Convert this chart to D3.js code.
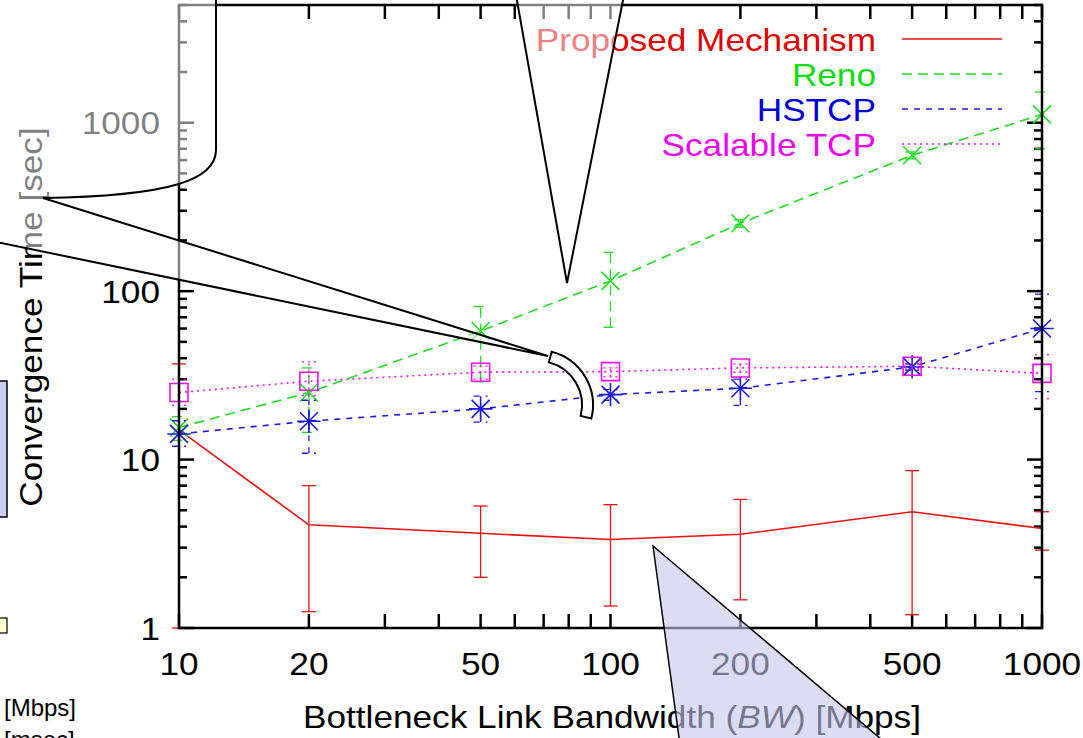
<!DOCTYPE html>
<html>
<head>
<meta charset="utf-8">
<script src="https://cdn.jsdelivr.net/npm/d3@7"></script>
<style>
  body { margin: 0; background: #fff; }
  svg { display: block; font-family: "Liberation Sans", Arial, sans-serif; }
</style>
</head>
<body>
<div id="chart"></div>
<script>
// values (sec), one array per series
var bandwidth = [10, 20, 50, 100, 200, 500, 1000];

var proposed     = [15,   4.1,  3.65, 3.35, 3.6,  4.9,  3.9];
var proposedLow  = [1,    1.25, 2.0,  1.35, 1.47, 1.2,  2.9];
var proposedHigh = [37,   7.0,  5.3,  5.4,  5.8,  8.6,  4.9];

var reno     = [15.5, 25,   58, 115, 253, 641, 1120];
var renoLow  = [13,   14.5, 29, 61,  240, 610, 700];
var renoHigh = [18,   35,   81, 170, 265, 670, 1520];

var hstcp     = [14.2, 16.9, 20,   24.3, 26.5, 35.5, 60];
var hstcpLow  = [12,   10.9, 16.7, 22.5, 21,   34,   25.3];
var hstcpHigh = [17,   22.5, 23.8, 26,   30,   37,   96];

var scalable     = [25, 29.2, 33, 33.3, 35, 35.8, 32.5];
var scalableLow  = [21, 24,   30, 31,   33, 34.5, 23];
var scalableHigh = [30, 38,   36, 35,   37, 37,   42];

var seriesNames = ["Proposed Mechanism", "Reno", "HSTCP", "Scalable TCP"];
var xTickLabels = [10, 20, 50, 100, 200, 500, 1000];
var yTickLabels = [1, 10, 100, 1000];

var width = 1083, height = 738;
// NOTE: don't call these top/left etc, window.top is read-only
var plotL = 179, plotR = 1042, plotT = 5, plotB = 628;
var stretch = 1.1; // text in the picture runs a bit wider than Liberation Sans

var x = d3.scaleLog().domain([10, 1000]).range([plotL, plotR]);
var y = d3.scaleLog().domain([1, 5000]).range([plotB, plotT]);

var svg = d3.select("#chart").append("svg")
    .attr("width", width)
    .attr("height", height);

// helper: text stretched along its own direction
function label(g, txt, px, py, opts) {
    opts = opts || {};
    var rot = opts.rotate ? " rotate(" + opts.rotate + ")" : "";
    return g.append("text")
        .attr("transform", "translate(" + px + "," + py + ")" + rot + " scale(" + stretch + ",1)")
        .attr("text-anchor", opts.anchor || "middle")
        .style("font-size", (opts.size || 32) + "px")
        .style("fill", opts.fill || "#000")
        .text(txt);
}

// series table built from the arrays above
var series = [
    {name: seriesNames[0], v: proposed, lo: proposedLow, hi: proposedHigh, color: "#f01010", text: "#e00000", dash: null,  mark: null},
    {name: seriesNames[1], v: reno,     lo: renoLow,     hi: renoHigh,     color: "#22dd22", text: "#11dd11", dash: "10,6", mark: "cross"},
    {name: seriesNames[2], v: hstcp,    lo: hstcpLow,    hi: hstcpHigh,    color: "#1a1ae0", text: "#0000dd", dash: "6,6",  mark: "star"},
    {name: seriesNames[3], v: scalable, lo: scalableLow, hi: scalableHigh, color: "#ee11ee", text: "#ee00ee", dash: "2,4",  mark: "square"}
];

function markPath(type, s) {
    if (type == "cross") return "M" + -s + "," + -s + "L" + s + "," + s + "M" + -s + "," + s + "L" + s + "," + -s;
    if (type == "star") return "M" + -s + "," + -s + "L" + s + "," + s + "M" + -s + "," + s + "L" + s + "," + -s +
        "M0," + (-s * 1.3) + "L0," + (s * 1.3) + "M" + (-s * 1.3) + ",0L" + (s * 1.3) + ",0";
    if (type == "square") return "M" + -s + "," + -s + "H" + s + "V" + s + "H" + -s + "Z";
    return "";
}

// ---- ticks (inward, mirrored on all four sides) ----
var axes = svg.append("g").attr("class", "axes");

var xTicks = d3.range(10, 101, 10).concat(d3.range(200, 1001, 100));
xTicks.forEach(function (t) {
    axes.append("line").attr("x1", x(t)).attr("x2", x(t)).attr("y1", plotB).attr("y2", plotB - 14);
    axes.append("line").attr("x1", x(t)).attr("x2", x(t)).attr("y1", plotT).attr("y2", plotT + 14);
});

var yTicks = [];
[1, 10, 100, 1000].forEach(function (d) {
    for (var k = 1; k <= 9; k++) if (d * k <= 5000) yTicks.push({v: d * k, major: k == 1});
});
yTicks.forEach(function (t) {
    var len = t.major ? 15 : 8;
    axes.append("line").attr("x1", plotL).attr("x2", plotL + len).attr("y1", y(t.v)).attr("y2", y(t.v));
    axes.append("line").attr("x1", plotR).attr("x2", plotR - len).attr("y1", y(t.v)).attr("y2", y(t.v));
});
axes.selectAll("line").style("stroke", "#000").style("stroke-width", 2.5);

xTickLabels.forEach(function (t) { label(axes, t, x(t), 675); });
yTickLabels.forEach(function (t) { label(axes, t, 160, y(t) + 11.5, {anchor: "end"}); });

// x title, with the italic BW
var xt = axes.append("text")
    .attr("transform", "translate(612,728) scale(" + stretch + ",1)")
    .attr("text-anchor", "middle")
    .style("font-size", "32px");
xt.append("tspan").text("Bottleneck Link Bandwidth (");
xt.append("tspan").style("font-style", "italic").text("BW");
xt.append("tspan").text(") [Mbps]");

label(axes, "Convergence Time [sec]", 42, 317, {rotate: -90});

// ---- data ----
var plot = svg.append("g").attr("class", "plot");

series.forEach(function (s) {
    var pts = bandwidth.map(function (b, i) { return {b: b, v: s.v[i], lo: s.lo[i], hi: s.hi[i]}; });
    var g = plot.append("g");

    // error bars
    pts.forEach(function (p) {
        var eb = g.append("g")
            .style("stroke", s.color).style("stroke-width", 1.3)
            .style("stroke-dasharray", s.dash);
        eb.append("line").attr("x1", x(p.b)).attr("x2", x(p.b)).attr("y1", y(p.lo)).attr("y2", y(p.hi));
        eb.append("line").attr("x1", x(p.b) - 7).attr("x2", x(p.b) + 7).attr("y1", y(p.lo)).attr("y2", y(p.lo));
        eb.append("line").attr("x1", x(p.b) - 7).attr("x2", x(p.b) + 7).attr("y1", y(p.hi)).attr("y2", y(p.hi));
    });

    g.append("path")
        .datum(pts)
        .attr("d", d3.line().x(function (d) { return x(d.b); }).y(function (d) { return y(d.v); }))
        .style("fill", "none")
        .style("stroke", s.color)
        .style("stroke-width", 1.6)
        .style("stroke-dasharray", s.dash);

    if (s.mark) {
        g.selectAll(".pt").data(pts).enter().append("path")
            .attr("transform", function (d) { return "translate(" + x(d.b) + "," + y(d.v) + ")"; })
            .attr("d", markPath(s.mark, 9))
            .style("fill", "none")
            .style("stroke", s.color)
            .style("stroke-width", 1.6);
    }
});

// ---- legend ----
var legend = svg.append("g").attr("class", "legend");
var legendY = [51, 86, 121, 156];
series.forEach(function (s, i) {
    label(legend, s.name, 876, legendY[i], {anchor: "end", fill: s.text});
    legend.append("line")
        .attr("x1", 902).attr("x2", 1002)
        .attr("y1", legendY[i] - 12).attr("y2", legendY[i] - 12)
        .style("stroke", s.color).style("stroke-width", 1.6)
        .style("stroke-dasharray", s.dash);
});

// frame
svg.append("rect")
    .attr("x", plotL).attr("y", plotT)
    .attr("width", plotR - plotL).attr("height", plotB - plotT)
    .style("fill", "none").style("stroke", "#000").style("stroke-width", 2.5);

// ---- callout shapes lying over the figure ----
var notes = svg.append("g").attr("class", "callouts");

// top-left balloon with long pointer
notes.append("path")
    .attr("d", "M216,-5 L216,150 C216,180 170,196 43,198 L548,356 L-216,198 L-300,198 L-300,-5 Z")
    .style("fill", "#fff").style("fill-opacity", 0.5)
    .style("stroke", "#000").style("stroke-width", 2);

// top pointer
notes.append("path")
    .attr("d", "M516,-5 L567,283 L624,-5 Z")
    .style("fill", "#fff").style("fill-opacity", 0.5)
    .style("stroke", "#000").style("stroke-width", 2);

// bottom lavender pointer
notes.append("path")
    .attr("d", "M653,546 L680,745 L888,745 Z")
    .style("fill", "#c4c6ef").style("fill-opacity", 0.6)
    .style("stroke", "#000").style("stroke-width", 1.5);

// small white crescent
notes.append("path")
    .attr("transform", "translate(538,405)")
    .attr("d", d3.arc().innerRadius(44).outerRadius(55).startAngle(0.25).endAngle(1.82)())
    .style("fill", "#fff")
    .style("stroke", "#000").style("stroke-width", 2);

// boxes cut by the left edge
notes.append("rect")
    .attr("x", -10).attr("y", 381).attr("width", 17).attr("height", 136)
    .style("fill", "#cccdf3").style("stroke", "#000").style("stroke-width", 1.5);
notes.append("rect")
    .attr("x", -10).attr("y", 618).attr("width", 17).attr("height", 15)
    .style("fill", "#ffffcc").style("stroke", "#000").style("stroke-width", 1.2);

notes.append("text").attr("x", 4).attr("y", 716).style("font-size", "24px").text("[Mbps]");
notes.append("text").attr("x", 4).attr("y", 748).style("font-size", "24px").text("[msec]");
</script>
</body>
</html>
